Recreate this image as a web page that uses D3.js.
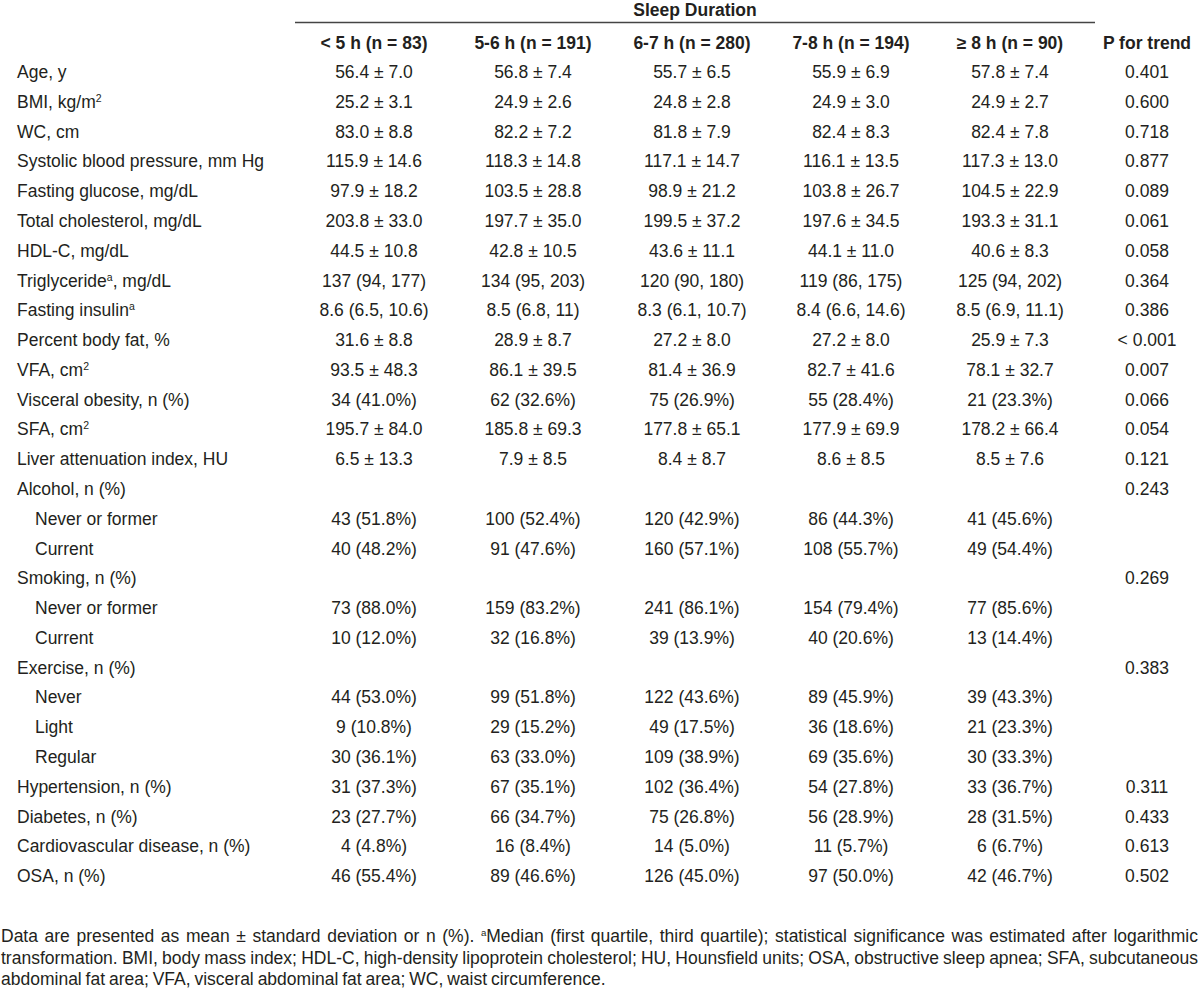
<!DOCTYPE html>
<html><head><meta charset="utf-8">
<script src="https://cdn.jsdelivr.net/npm/d3@7"></script>
<style>
html,body{margin:0;padding:0;background:#fff;}
svg{display:block;}
text{font-family:"Liberation Sans Narrow","Arial Narrow","Liberation Sans",sans-serif;fill:#231f20;}
</style></head>
<body>
<svg id="chart" width="1200" height="996"></svg>
<script>
const spanner = "Sleep Duration";
const groups = ["< 5 h (n = 83)", "5-6 h (n = 191)", "6-7 h (n = 280)", "7-8 h (n = 194)", "≥ 8 h (n = 90)"];
const pHeader = "P for trend";

// row label, superscript marker, indent
const rowLabels = [
  ["Age, y","",0],["BMI, kg/m","2",0],["WC, cm","",0],["Systolic blood pressure, mm Hg","",0],
  ["Fasting glucose, mg/dL","",0],["Total cholesterol, mg/dL","",0],["HDL-C, mg/dL","",0],
  ["Triglyceride","a|, mg/dL",0],["Fasting insulin","a",0],["Percent body fat, %","",0],
  ["VFA, cm","2",0],["Visceral obesity, n (%)","",0],["SFA, cm","2",0],["Liver attenuation index, HU","",0],
  ["Alcohol, n (%)","",0],["Never or former","",1],["Current","",1],
  ["Smoking, n (%)","",0],["Never or former","",1],["Current","",1],
  ["Exercise, n (%)","",0],["Never","",1],["Light","",1],["Regular","",1],
  ["Hypertension, n (%)","",0],["Diabetes, n (%)","",0],["Cardiovascular disease, n (%)","",0],["OSA, n (%)","",0]
];

const colLt5 = ["56.4 ± 7.0","25.2 ± 3.1","83.0 ± 8.8","115.9 ± 14.6","97.9 ± 18.2","203.8 ± 33.0","44.5 ± 10.8","137 (94, 177)","8.6 (6.5, 10.6)","31.6 ± 8.8","93.5 ± 48.3","34 (41.0%)","195.7 ± 84.0","6.5 ± 13.3","","43 (51.8%)","40 (48.2%)","","73 (88.0%)","10 (12.0%)","","44 (53.0%)","9 (10.8%)","30 (36.1%)","31 (37.3%)","23 (27.7%)","4 (4.8%)","46 (55.4%)"];
const col56 = ["56.8 ± 7.4","24.9 ± 2.6","82.2 ± 7.2","118.3 ± 14.8","103.5 ± 28.8","197.7 ± 35.0","42.8 ± 10.5","134 (95, 203)","8.5 (6.8, 11)","28.9 ± 8.7","86.1 ± 39.5","62 (32.6%)","185.8 ± 69.3","7.9 ± 8.5","","100 (52.4%)","91 (47.6%)","","159 (83.2%)","32 (16.8%)","","99 (51.8%)","29 (15.2%)","63 (33.0%)","67 (35.1%)","66 (34.7%)","16 (8.4%)","89 (46.6%)"];
const col67 = ["55.7 ± 6.5","24.8 ± 2.8","81.8 ± 7.9","117.1 ± 14.7","98.9 ± 21.2","199.5 ± 37.2","43.6 ± 11.1","120 (90, 180)","8.3 (6.1, 10.7)","27.2 ± 8.0","81.4 ± 36.9","75 (26.9%)","177.8 ± 65.1","8.4 ± 8.7","","120 (42.9%)","160 (57.1%)","","241 (86.1%)","39 (13.9%)","","122 (43.6%)","49 (17.5%)","109 (38.9%)","102 (36.4%)","75 (26.8%)","14 (5.0%)","126 (45.0%)"];
const col78 = ["55.9 ± 6.9","24.9 ± 3.0","82.4 ± 8.3","116.1 ± 13.5","103.8 ± 26.7","197.6 ± 34.5","44.1 ± 11.0","119 (86, 175)","8.4 (6.6, 14.6)","27.2 ± 8.0","82.7 ± 41.6","55 (28.4%)","177.9 ± 69.9","8.6 ± 8.5","","86 (44.3%)","108 (55.7%)","","154 (79.4%)","40 (20.6%)","","89 (45.9%)","36 (18.6%)","69 (35.6%)","54 (27.8%)","56 (28.9%)","11 (5.7%)","97 (50.0%)"];
const colGe8 = ["57.8 ± 7.4","24.9 ± 2.7","82.4 ± 7.8","117.3 ± 13.0","104.5 ± 22.9","193.3 ± 31.1","40.6 ± 8.3","125 (94, 202)","8.5 (6.9, 11.1)","25.9 ± 7.3","78.1 ± 32.7","21 (23.3%)","178.2 ± 66.4","8.5 ± 7.6","","41 (45.6%)","49 (54.4%)","","77 (85.6%)","13 (14.4%)","","39 (43.3%)","21 (23.3%)","30 (33.3%)","33 (36.7%)","28 (31.5%)","6 (6.7%)","42 (46.7%)"];
const pTrend = ["0.401","0.600","0.718","0.877","0.089","0.061","0.058","0.364","0.386","< 0.001","0.007","0.066","0.054","0.121","0.243","","","0.269","","","0.383","","","","0.311","0.433","0.613","0.502"];

const footLines = [
  "Data are presented as mean ± standard deviation or n (%). ^aMedian (first quartile, third quartile); statistical significance was estimated after logarithmic",
  "transformation. BMI, body mass index; HDL-C, high-density lipoprotein cholesterol; HU, Hounsfield units; OSA, obstructive sleep apnea; SFA, subcutaneous",
  "abdominal fat area; VFA, visceral abdominal fat area; WC, waist circumference."
];

const columns = [colLt5, col56, col67, col78, colGe8];
const svg = d3.select("#chart");
const FS = 17.5;
const SUP = 6; // superscript raise in px

const x = d3.scalePoint().domain(groups).range([374, 1010]);
const xP = 1147;
const y = d3.scaleLinear().domain([0, rowLabels.length - 1]).range([72, 876]);

// spanner
svg.append("text").attr("x", 695).attr("y", 10).attr("dy", "0.35em")
  .attr("text-anchor", "middle").attr("font-weight", "bold").attr("font-size", FS).text(spanner);
svg.append("line").attr("x1", 295).attr("x2", 1095).attr("y1", 22.5).attr("y2", 22.5)
  .attr("stroke", "#444").attr("stroke-width", 1.5);

// headers
svg.selectAll("text.hdr").data(groups).join("text").attr("class", "hdr")
  .attr("x", d => x(d)).attr("y", 43).attr("dy", "0.35em")
  .attr("text-anchor", "middle").attr("font-weight", "bold").attr("font-size", FS).text(d => d);
svg.append("text").attr("x", xP).attr("y", 43).attr("dy", "0.35em")
  .attr("text-anchor", "middle").attr("font-weight", "bold").attr("font-size", FS).text(pHeader);

// row labels
const lab = svg.selectAll("text.lab").data(rowLabels).join("text").attr("class", "lab")
  .attr("x", d => d[2] ? 35 : 17).attr("y", (d, i) => y(i) + FS * 0.35).attr("font-size", FS);
lab.each(function(d) {
  const t = d3.select(this);
  t.append("tspan").text(d[0]);
  if (d[1]) {
    const parts = d[1].split("|");
    t.append("tspan").attr("font-size", FS * 0.6).attr("dy", -SUP).text(parts[0]);
    if (parts[1]) t.append("tspan").attr("dy", SUP).text(parts[1]);
  }
});

// values
columns.forEach((col, ci) => {
  svg.append("g").selectAll("text").data(col).join("text")
    .attr("x", x(groups[ci])).attr("y", (d, i) => y(i)).attr("dy", "0.35em")
    .attr("text-anchor", "middle").attr("font-size", FS).text(d => d);
});
svg.append("g").selectAll("text").data(pTrend).join("text")
  .attr("x", xP).attr("y", (d, i) => y(i)).attr("dy", "0.35em")
  .attr("text-anchor", "middle").attr("font-size", FS).text(d => d);

// footnote (justified lines)
const FL = 1, FR = 1198, footY = [936, 957.5, 979];
footLines.forEach((line, li) => {
  const words = line.split(" ");
  const g = svg.append("g");
  const nodes = words.map(w => {
    const t = g.append("text").attr("y", footY[li] + FS * 0.35).attr("font-size", FS);
    if (w.startsWith("^a")) {
      t.append("tspan").attr("font-size", FS * 0.55).attr("dy", -SUP).text("a");
      t.append("tspan").attr("dy", SUP).text(w.slice(2));
    } else t.text(w);
    return t;
  });
  const widths = nodes.map(n => n.node().getComputedTextLength());
  const space = FS * 0.22;
  const total = d3.sum(widths);
  const justify = li < footLines.length - 1;
  const gap = justify ? (FR - FL - total) / (words.length - 1) : space;
  let cx = FL;
  nodes.forEach((n, i) => { n.attr("x", cx); cx += widths[i] + gap; });
});
</script>
</body></html>
